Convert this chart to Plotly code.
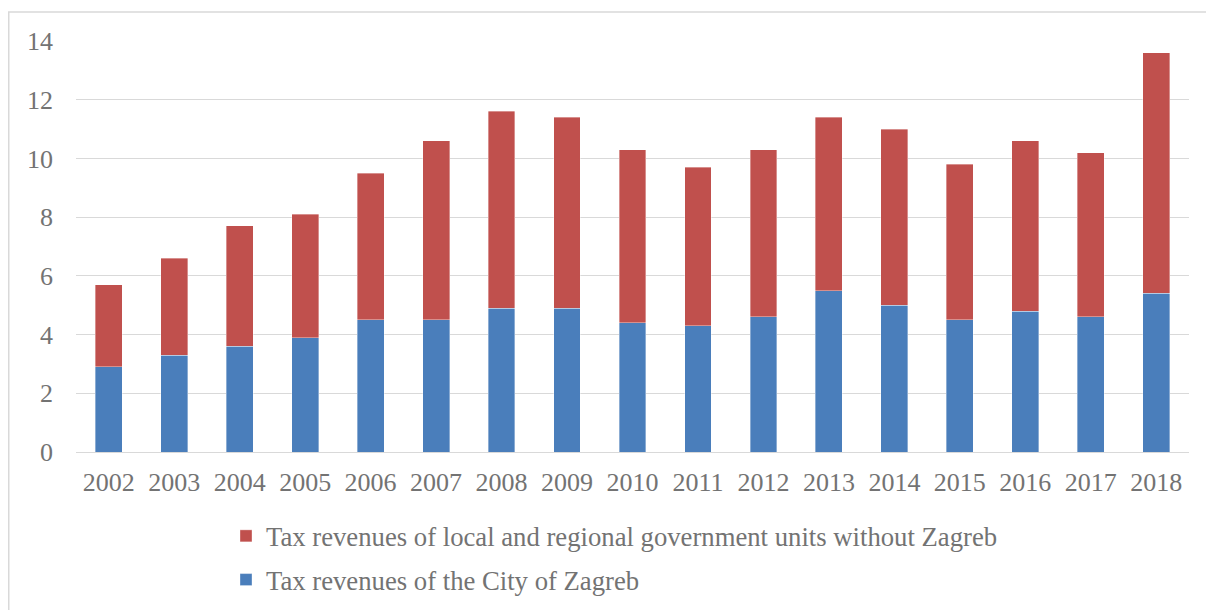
import plotly.graph_objects as go

years = [str(y) for y in range(2002, 2019)]
zagreb = [2.9, 3.3, 3.6, 3.9, 4.5, 4.5, 4.9, 4.9, 4.4, 4.3, 4.6, 5.5, 5.0, 4.5, 4.8, 4.6, 5.4]
others = [2.8, 3.3, 4.1, 4.2, 5.0, 6.1, 6.7, 6.5, 5.9, 5.4, 5.7, 5.9, 6.0, 5.3, 5.8, 5.6, 8.2]
y_ticks = [0, 2, 4, 6, 8, 10, 12, 14]

name_zagreb = "Tax revenues of the City of Zagreb"
name_others = "Tax revenues of local and regional government units without Zagreb"

OFF = 8  # page body margin
W, H = 1214 - OFF, 610 - OFF
L, R, T, B = 76 - OFF, 1189 - OFF, 41 - OFF, 452 - OFF  # plot area in figure px

TXT = "#737373"
FONT = "Liberation Serif, Times New Roman, serif"

fig = go.Figure()
fig.add_trace(go.Bar(x=years, y=zagreb, name=name_zagreb, legendgroup="a", legendrank=2,
                     marker=dict(color="#4A7EBB", line=dict(width=0.6, color="rgba(255,255,255,0.6)"))))
fig.add_trace(go.Bar(x=years, y=others, name=name_others, legendgroup="b", legendrank=1,
                     marker=dict(color="#C0504D", line=dict(width=0.6, color="rgba(255,255,255,0.6)"))))

def px_x(p):
    return (p - L) / (R - L)

def px_y(q):
    return (B - q) / (B - T)

fig.add_shape(type="rect", xref="paper", yref="paper",
              x0=px_x(0.75), x1=px_x(1205), y0=px_y(620), y1=px_y(4),
              line=dict(color="#D9D9D9", width=1.5), fillcolor="rgba(0,0,0,0)", layer="below")

fig.update_layout(
    width=W, height=H,
    margin=dict(l=L, r=W - R, t=T, b=H - B, pad=0, autoexpand=False),
    barmode="stack", bargap=0.59,
    plot_bgcolor="white", paper_bgcolor="white",
    font=dict(family=FONT, size=26, color=TXT),
    showlegend=True,
    legend=dict(orientation="v", traceorder="grouped", tracegroupgap=6,
                xref="container", yref="container",
                x=218 / W, xanchor="left", y=1 - 504 / H, yanchor="top",
                font=dict(family=FONT, size=26.7, color=TXT),
                bgcolor="rgba(0,0,0,0)", itemclick=False),
    xaxis=dict(type="category", showgrid=False, showline=False, ticks="", automargin=False,
               tickfont=dict(family=FONT, size=26, color=TXT), ticklabelstandoff=12),
    yaxis=dict(range=[0, 14], tickvals=y_ticks, showgrid=True, gridcolor="#D9D9D9", gridwidth=1.3,
               zeroline=True, zerolinecolor="#D9D9D9", zerolinewidth=1.3, showline=False, ticks="",
               automargin=False,
               tickfont=dict(family=FONT, size=26, color=TXT), ticklabelstandoff=22),
)

fig.write_html("out.html")
